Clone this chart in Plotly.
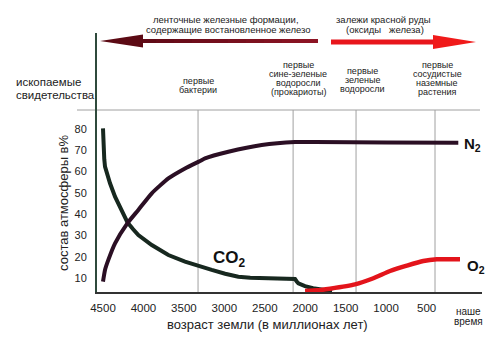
import plotly.graph_objects as go

FONT = "Liberation Sans, Arial, sans-serif"

# ---------------- data (age in millions of years, % of atmosphere) ----------------
n2_age = [4500, 4475, 4434, 4351, 4199, 4063, 3897, 3692, 3486, 3300, 3239, 2950, 2538, 2126, 1879, 1000, 108]
n2_val = [8.3, 13.8, 18.5, 26.3, 35.7, 42.0, 49.8, 56.8, 61.5, 65.0, 66.2, 69.3, 72.5, 73.9, 73.9, 73.7, 73.6]

co2_age = [4500, 4496, 4492, 4484, 4475, 4446, 4413, 4351, 4268, 4199, 4130, 4063, 3897, 3692, 3486, 3239,
           3156, 2990, 2827, 2680, 2538, 2126, 2105, 2085, 2003, 1903, 1780, 1668]
co2_val = [80.3, 74.5, 70.2, 65.8, 62.3, 58.0, 54.5, 48.2, 42.0, 36.2, 33.0, 30.2, 25.5, 20.8, 17.7, 14.6,
           13.8, 12.0, 10.6, 10.1, 9.9, 9.5, 8.4, 7.5, 6.2, 5.2, 4.5, 3.9]

o2_age = [2002, 1850, 1693, 1384, 1158, 952, 745, 540, 374, 87]
o2_val = [3.9, 4.2, 5.0, 7.0, 9.9, 13.3, 15.8, 18.0, 18.8, 18.8]

x_ticks = [4500, 4000, 3500, 3000, 2500, 2000, 1500, 1000, 500]
y_ticks = [10, 20, 30, 40, 50, 60, 70, 80]

event_ages = [3325, 2150, 1372, 396]
event_labels = [
    ["первые", "бактерии"],
    ["первые", "сине-зеленые", "водоросли", "(прокариоты)"],
    ["первые", "зеленые", "водоросли"],
    ["первые", "сосудистые", "наземные", "растения"],
]

# ---------------- layout geometry (pixels) ----------------
W, H = 500, 340
L, R, T, B = 97, 18, 33, 48
PW, PH = W - L - R, H - T - B
X_RANGE = [4574, -185]
Y_RANGE = [3.43, 125.1]


def xp(px):
    return (px - L) / PW


def yp(py):
    return 1 - (py - T) / PH


def ypx(py):  # pixel y -> data y
    return Y_RANGE[0] + (T + PH - py) / PH * (Y_RANGE[1] - Y_RANGE[0])


fig = go.Figure()
fig.add_trace(go.Scatter(x=co2_age, y=co2_val, mode="lines",
                         line=dict(color="#17281f", width=4, shape="linear"),
                         hoverinfo="skip"))
fig.add_trace(go.Scatter(x=n2_age, y=n2_val, mode="lines",
                         line=dict(color="#2b0f24", width=4, shape="spline", smoothing=0.5),
                         hoverinfo="skip"))
fig.add_trace(go.Scatter(x=o2_age, y=o2_val, mode="lines",
                         line=dict(color="#e3141b", width=4.5, shape="spline", smoothing=0.6),
                         hoverinfo="skip"))

shapes = []
annotations = []

# vertical event lines
for a in event_ages:
    shapes.append(dict(type="line", xref="x", yref="y", x0=a, x1=a, y0=Y_RANGE[0], y1=ypx(110),
                       line=dict(color="#a0a0a0", width=1), layer="below"))
# horizontal separator of fossil record band
shapes.append(dict(type="line", xref="paper", yref="paper", x0=xp(77), x1=xp(480), y0=yp(110), y1=yp(110),
                   line=dict(color="#a0a0a0", width=1), layer="below"))


def hexmix(c1, c2, t):
    return "#%02x%02x%02x" % tuple(int(round(c1[i] + (c2[i] - c1[i]) * t)) for i in range(3))


# left arrow (dark red, reduced iron)
nseg = 10
x_start, x_end = 138, 318
for i in range(nseg):
    a = x_start + (x_end - x_start) * i / nseg
    b = x_start + (x_end - x_start) * (i + 1) / nseg + 0.5
    col = hexmix((96, 10, 22), (140, 20, 36), i / (nseg - 1))
    shapes.append(dict(type="rect", xref="paper", yref="paper", x0=xp(a), x1=xp(min(b, x_end)),
                       y0=yp(43), y1=yp(39), fillcolor=col, line=dict(width=0)))
shapes.append(dict(type="path", xref="paper", yref="paper",
                   path=f"M {xp(100)},{yp(41)} L {xp(143)},{yp(34.5)} L {xp(143)},{yp(47.5)} Z",
                   fillcolor="#5c0a14", line=dict(width=0)))

# right arrow (bright red, iron oxides)
shapes.append(dict(type="rect", xref="paper", yref="paper", x0=xp(331), x1=xp(436),
                   y0=yp(44.5), y1=yp(39.5), fillcolor="#e8161c", line=dict(width=0)))
shapes.append(dict(type="path", xref="paper", yref="paper",
                   path=f"M {xp(476)},{yp(42)} L {xp(433)},{yp(35)} L {xp(433)},{yp(49)} Z",
                   fillcolor="#f01a1a", line=dict(width=0)))


def txt(s, px, py, size, anchor="center", color="#222222", angle=0):
    annotations.append(dict(text=s, x=xp(px), y=yp(py), xref="paper", yref="paper",
                            xanchor=anchor, yanchor="middle", showarrow=False, textangle=angle,
                            font=dict(size=size, color=color, family=FONT)))


# top texts
txt("ленточные железные формации,", 226, 19, 9.5)
txt("содержащие востановленное железо", 228, 29, 9.5)
txt("залежи красной руды", 383, 19, 9.5)
txt("(оксиды   железа)", 385, 29, 9.5)

# fossil evidence
txt("ископаемые", 14, 82, 11.5, anchor="left")
txt("свидетельства", 14, 95, 11.5, anchor="left")

ev_px = [198, 298, 362, 437]
ev_py = [[81, 90], [65, 74, 83, 92], [71, 80, 89], [65, 74, 83, 92]]
for lines, px, pys in zip(event_labels, ev_px, ev_py):
    for s, py in zip(lines, pys):
        txt(s, px, py, 9)

# "present time" x label
txt("наше", 468, 311, 10)
txt("время", 468, 321, 10)

# axis titles
txt("состав атмосферы в%", 63, 203, 13, angle=-90)
txt("возраст земли (в миллионах лет)", 267, 324, 13)

# curve labels
annotations.append(dict(text="CO<sub>2</sub>", x=xp(211), y=yp(259), xref="paper", yref="paper",
                        xanchor="left", yanchor="middle", showarrow=False,
                        font=dict(size=17, color="#111111", family=FONT, weight="bold")))
annotations.append(dict(text="N<sub>2</sub>", x=xp(462), y=yp(144), xref="paper", yref="paper",
                        xanchor="left", yanchor="middle", showarrow=False,
                        font=dict(size=15, color="#111111", family=FONT, weight="bold")))
annotations.append(dict(text="O<sub>2</sub>", x=xp(465), y=yp(266), xref="paper", yref="paper",
                        xanchor="left", yanchor="middle", showarrow=False,
                        font=dict(size=15, color="#111111", family=FONT, weight="bold")))

fig.update_layout(
    width=W, height=H,
    margin=dict(l=L, r=R, t=T, b=B, pad=0),
    paper_bgcolor="white", plot_bgcolor="white",
    showlegend=False,
    shapes=shapes, annotations=annotations,
    font=dict(family=FONT, color="#222222"),
    xaxis=dict(range=X_RANGE, tickvals=x_ticks, ticktext=[str(v) for v in x_ticks],
               showgrid=False, zeroline=False, showline=True, linecolor="#333333", linewidth=1.5,
               ticks="", tickfont=dict(size=11.5, color="#222222", family=FONT), ticklabelstandoff=4),
    yaxis=dict(range=Y_RANGE, tickvals=y_ticks, ticktext=[str(v) for v in y_ticks],
               showgrid=False, zeroline=False, showline=True, linecolor="#2f4a3c", linewidth=2,
               ticks="", tickfont=dict(size=11, color="#222222", family=FONT), ticklabelstandoff=6),
)

fig.write_html("out.html")
